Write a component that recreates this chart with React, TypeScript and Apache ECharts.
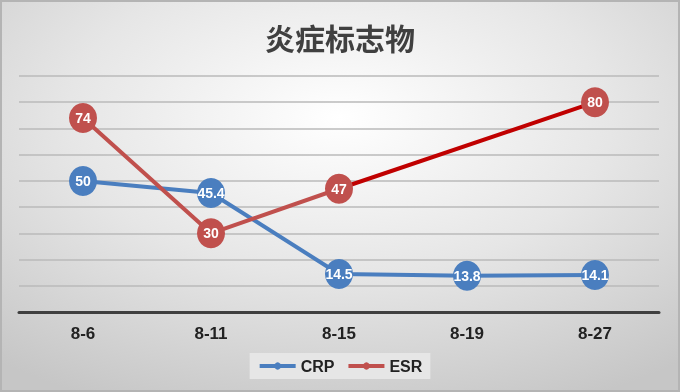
import React, { useEffect, useRef } from "react";
import * as echarts from "echarts";

const categories = ["8-6", "8-11", "8-15", "8-19", "8-27"];
const crpValues = [50, 45.4, 14.5, 13.8, 14.1];
const esrValues: (number | null)[] = [74, 30, 47, null, 80];
const esrGapValues: (number | null)[] = [null, null, 47, null, 80];
const titleText = "炎症标志物";

export default function App() {
  const ref = useRef<HTMLDivElement>(null);
  useEffect(() => {
    if (!ref.current) return;
    const chart = echarts.init(ref.current, null, { renderer: "svg" });
    const labelStyle = {
      show: true,
      position: "inside" as const,
      color: "#ffffff",
      fontWeight: "bold" as const,
      fontSize: 14,
      fontFamily: "Liberation Sans",
    };
    chart.setOption({
      animation: false,
      backgroundColor: new echarts.graphic.RadialGradient(0.5, 0.3, 0.8, [
        { offset: 0, color: "#ffffff" },
        { offset: 0.5, color: "#e6e6e6" },
        { offset: 1, color: "#c6c6c6" },
      ]),
      graphic: [
        {
          type: "rect",
          shape: { x: 1, y: 1, width: 678, height: 390 },
          style: { fill: "none", stroke: "#b4b4b4", lineWidth: 2 },
          silent: true,
        },
      ],
      title: {
        text: titleText,
        left: "center",
        top: 17,
        textStyle: {
          fontFamily: "Noto Sans CJK SC",
          fontSize: 30,
          fontWeight: "bold",
          color: "#404040",
        },
      },
      legend: {
        bottom: 13,
        left: "center",
        data: ["CRP", "ESR"],
        itemWidth: 36,
        itemHeight: 9,
        itemGap: 12,
        padding: [5, 8],
        backgroundColor: "#e6e6e6",
        lineStyle: { width: 4 },
        textStyle: {
          fontFamily: "Liberation Sans",
          fontWeight: "bold",
          fontSize: 16,
          color: "#222222",
        },
      },
      grid: { left: 19, right: 21, top: 76, bottom: 80 },
      xAxis: {
        type: "category",
        data: categories,
        boundaryGap: true,
        axisTick: { show: false },
        axisLine: { lineStyle: { color: "#3f3f3f", width: 3 } },
        axisLabel: {
          margin: 13,
          fontFamily: "Liberation Sans",
          fontWeight: "bold",
          fontSize: 17,
          color: "#222222",
        },
      },
      yAxis: {
        type: "value",
        min: 0,
        max: 90,
        interval: 10,
        axisLabel: { show: false },
        axisLine: { show: false },
        axisTick: { show: false },
        splitLine: { lineStyle: { color: "#bababa", width: 1.6 } },
      },
      series: [
        {
          name: "CRP",
          type: "line",
          data: crpValues,
          symbol: "circle",
          symbolSize: [28, 30],
          showSymbol: true,
          color: "#4a7ebf",
          lineStyle: { color: "#4a7ebf", width: 4 },
          itemStyle: { color: "#4a7ebf" },
          label: labelStyle,
          z: 2,
        },
        {
          name: "ESRgap",
          type: "line",
          data: esrGapValues,
          connectNulls: true,
          symbol: "none",
          lineStyle: { color: "#c00000", width: 4 },
          color: "#c00000",
          z: 3,
        },
        {
          name: "ESR",
          type: "line",
          data: esrValues,
          connectNulls: false,
          symbol: "circle",
          symbolSize: [28, 30],
          showSymbol: true,
          color: "#c0504d",
          lineStyle: { color: "#c0504d", width: 4 },
          itemStyle: { color: "#c0504d" },
          label: labelStyle,
          z: 4,
        },
      ],
    });
    return () => chart.dispose();
  }, []);
  return (
    <div style={{ position: "fixed", left: 0, top: 0, width: 680, height: 392 }}>
      <div ref={ref} style={{ width: 680, height: 392 }} />
    </div>
  );
}
